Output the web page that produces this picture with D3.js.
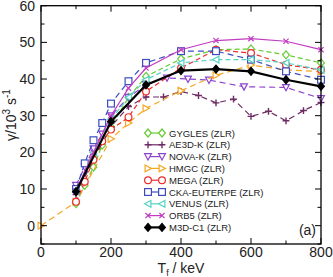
<!DOCTYPE html>
<html><head><meta charset="utf-8">
<script src="https://cdn.jsdelivr.net/npm/d3@7"></script>
<style>body{margin:0;background:#fff}svg{display:block}text{font-family:"Liberation Sans",Arial,sans-serif}</style>
</head><body>
<script>
const xTicks=[0,200,400,600,800];
const yTicks=[0,10,20,30,40,50,60];
const seriesNames=["GYGLES (ZLR)","AE3D-K (ZLR)","NOVA-K (ZLR)","HMGC (ZLR)","MEGA (ZLR)","CKA-EUTERPE (ZLR)","VENUS (ZLR)","ORB5 (ZLR)","M3D-C1 (ZLR)"];
const gyglesT=[100,125,150,175,200,250,300,400,500,600,700,800];
const gyglesV=[6,11,16,22,27,35,40.7,45.5,48,48.2,46.6,44.4];
const ae3dT=[100,150,200,250,300,350,400,450,500,550,600,650,700,750,800];
const ae3dV=[8.5,18,27,32.5,35.1,35.1,36.6,35.5,33.5,34.5,29.8,31.2,28.6,31.4,33.6];
const novaT=[100,125,150,175,200,250,300,360,420,480,580,700,800];
const novaV=[11,16,21,25,30,35,38.5,40.3,40.0,39.7,37.9,37.7,34.7];
const hmgcT=[0,100,200,250,300,400,500,600,700,800];
const hmgcV=[0,6.5,23.7,28,32,36.8,41,43.8,42.5,42];
const megaT=[100,125,150,175,200,250,300,400,500,600,700,800];
const megaV=[6.5,12,18,23,26.2,29.6,36.6,43,48,47.1,43.9,42.5];
const ckaT=[100,125,150,175,200,250,300,400,500,600,700,800];
const ckaV=[10,17,23.3,28,33.3,39.4,44.4,47.6,47.6,45.3,42.1,39.8];
const venusT=[100,150,200,250,300,400,500,600,700,800];
const venusV=[9.5,20,29,35,39.8,44.4,45.3,45.3,44.4,42.5];
const orb5T=[100,150,200,250,300,400,500,600,700,800];
const orb5V=[9.5,20,30,37.5,43,48,50.5,51,50.3,48];
const m3dT=[100,200,300,400,500,600,700,800];
const m3dV=[9.3,28.4,38.4,42.3,42.7,42.1,39.8,38.0];

const styles=[
 {c:"#66cc33",m:"diamond",dash:"5,3",w:1.2},
 {c:"#6e2a63",m:"plus",dash:"6,4",w:1.2},
 {c:"#8c44cc",m:"tridown",dash:"6,4",w:1.2},
 {c:"#f5a623",m:"triright",dash:"6,4",w:1.2},
 {c:"#ee2b2b",m:"circle",dash:"5,3",w:1.2},
 {c:"#3d4dbf",m:"square",dash:"6,4",w:1.2},
 {c:"#55d3c3",m:"trileft",dash:"5,3",w:1.2},
 {c:"#c23cc2",m:"cross",dash:null,w:1.2},
 {c:"#000000",m:"fdiamond",dash:null,w:2.2}
];
const series=[[gyglesT,gyglesV],[ae3dT,ae3dV],[novaT,novaV],[hmgcT,hmgcV],[megaT,megaV],[ckaT,ckaV],[venusT,venusV],[orb5T,orb5V],[m3dT,m3dV]];

const W=333,H=277;
const svg=d3.select("body").append("svg").attr("width",W).attr("height",H);
const x=d3.scaleLinear().domain([0,800]).range([41,321]);
const y=d3.scaleLinear().domain([-5,60]).range([244,5.7]);

function marker(g,m,c,px,py){
  const s=3.4;
  if(m==="diamond"||m==="fdiamond"){
    g.append("path").attr("d",`M${px},${py-s-0.6}L${px+s},${py}L${px},${py+s+0.6}L${px-s},${py}Z`)
     .attr("fill",m==="fdiamond"?c:"#fff").attr("stroke",c).attr("stroke-width",1.2);
  }else if(m==="plus"){
    g.append("path").attr("d",`M${px-s},${py}H${px+s}M${px},${py-s}V${py+s}`).attr("stroke",c).attr("stroke-width",1.4);
  }else if(m==="cross"){
    g.append("path").attr("d",`M${px-2.6},${py-2.6}L${px+2.6},${py+2.6}M${px-2.6},${py+2.6}L${px+2.6},${py-2.6}`).attr("stroke",c).attr("stroke-width",1.2);
  }else if(m==="circle"){
    g.append("circle").attr("cx",px).attr("cy",py).attr("r",s).attr("fill","#fff").attr("stroke",c).attr("stroke-width",1.2);
  }else if(m==="square"){
    g.append("rect").attr("x",px-s).attr("y",py-s).attr("width",2*s).attr("height",2*s).attr("fill","#fff").attr("stroke",c).attr("stroke-width",1.2);
  }else{
    let pts;
    if(m==="tridown")pts=[[px-s,py-s+0.5],[px+s,py-s+0.5],[px,py+s]];
    else if(m==="triright")pts=[[px-s+0.5,py-s],[px-s+0.5,py+s],[px+s,py]];
    else pts=[[px+s-0.5,py-s],[px+s-0.5,py+s],[px-s,py]];
    g.append("path").attr("d","M"+pts.map(p=>p.join(",")).join("L")+"Z").attr("fill","#fff").attr("stroke",c).attr("stroke-width",1.2);
  }
}

// data
const line=d3.line().x(d=>x(d[0])).y(d=>y(d[1]));
series.forEach((s,i)=>{
  const st=styles[i];
  const pts=s[0].map((t,j)=>[t,s[1][j]]);
  const g=svg.append("g");
  g.append("path").attr("d",line(pts)).attr("fill","none").attr("stroke",st.c).attr("stroke-width",st.w).attr("stroke-dasharray",st.dash);
  pts.forEach(p=>marker(g,st.m,st.c,x(p[0]),y(p[1])));
});

// axes / frame
const ax=svg.append("g");
ax.append("rect").attr("x",41).attr("y",5.7).attr("width",280).attr("height",244-5.7).attr("fill","none").attr("stroke","#000").attr("stroke-width",1.3);
d3.range(0,801,100).forEach(t=>{
  const L=t%200===0?6:3.5;
  ax.append("line").attr("x1",x(t)).attr("x2",x(t)).attr("y1",244).attr("y2",244-L).attr("stroke","#000");
  ax.append("line").attr("x1",x(t)).attr("x2",x(t)).attr("y1",5.7).attr("y2",5.7+L).attr("stroke","#000");
});
d3.range(-5,61,5).forEach(v=>{
  const L=v%10===0?6:3.5;
  ax.append("line").attr("x1",41).attr("x2",41+L).attr("y1",y(v)).attr("y2",y(v)).attr("stroke","#000");
  ax.append("line").attr("x1",321).attr("x2",321-L).attr("y1",y(v)).attr("y2",y(v)).attr("stroke","#000");
});
xTicks.forEach(t=>ax.append("text").attr("x",x(t)).attr("y",257).attr("text-anchor","middle").attr("font-size",14).attr("fill","#222").text(t));
yTicks.forEach(v=>ax.append("text").attr("x",35).attr("y",y(v)+5).attr("text-anchor","end").attr("font-size",14).attr("fill","#222").text(v));

// axis titles
const xt=ax.append("text").attr("x",181).attr("y",273).attr("text-anchor","middle").attr("font-size",14).attr("fill","#222");
xt.append("tspan").text("T");
xt.append("tspan").attr("font-size",9).attr("dy",2.5).text("f");
xt.append("tspan").attr("dy",-2.5).text(" / keV");
const yt=ax.append("text").attr("transform","translate(16,115) rotate(-90)").attr("text-anchor","middle").attr("font-size",14).attr("fill","#222");
yt.append("tspan").text("γ/10");
yt.append("tspan").attr("font-size",10).attr("dy",-6).text("3");
yt.append("tspan").attr("dy",6).text(" s");
yt.append("tspan").attr("font-size",10).attr("dy",-6).text("-1");
ax.append("text").attr("x",316).attr("y",235).attr("text-anchor","end").attr("font-size",14).attr("fill","#222").text("(a)");

// legend
const lg=svg.append("g");
seriesNames.forEach((n,i)=>{
  const st=styles[i];
  const yy=133+11.8*i;
  lg.append("line").attr("x1",148).attr("x2",162).attr("y1",yy).attr("y2",yy).attr("stroke",st.c).attr("stroke-width",st.w);
  marker(lg,st.m,st.c,148,yy);
  marker(lg,st.m,st.c,162,yy);
  lg.append("text").attr("x",169).attr("y",yy+3.5).attr("font-size",9.5).attr("fill","#222").text(n);
});
</script>
</body></html>
